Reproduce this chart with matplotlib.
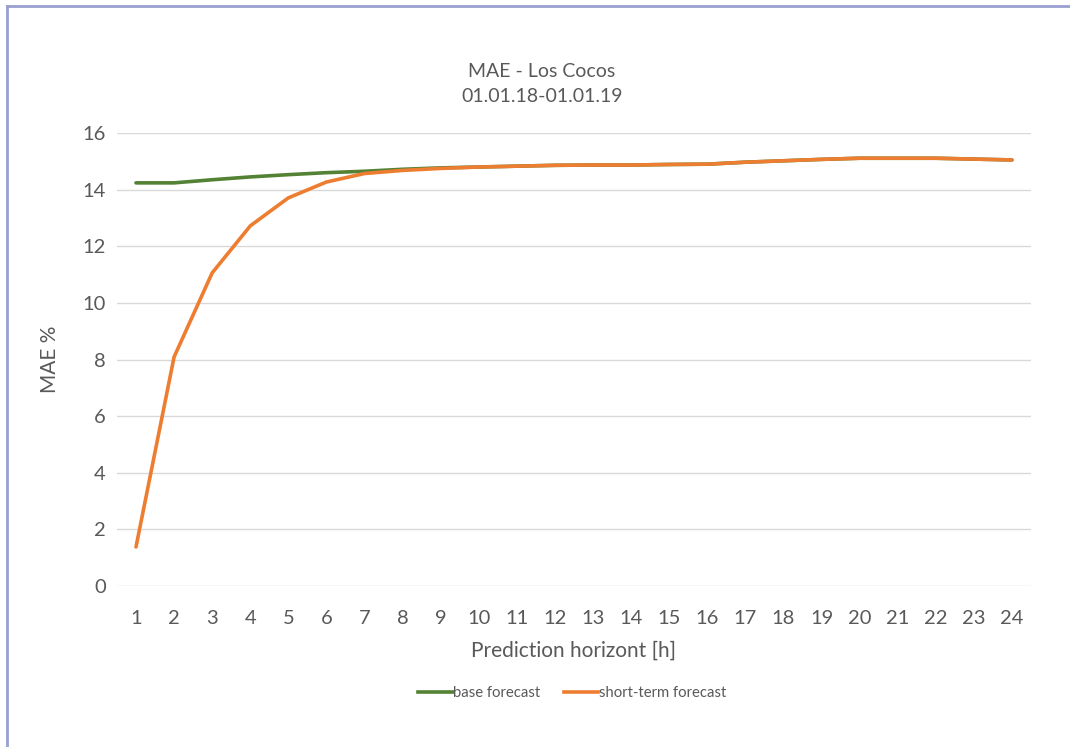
import matplotlib

matplotlib.use('Agg')
import matplotlib.pyplot as plt
from matplotlib.lines import Line2D

plt.rcParams['font.family'] = ['Lato', 'DejaVu Sans']

# data
horizon = list(range(1, 25))
base_forecast = [14.24, 14.24, 14.35, 14.45, 14.53, 14.60, 14.65, 14.72, 14.77, 14.80,
                 14.83, 14.86, 14.87, 14.87, 14.89, 14.90, 14.97, 15.02, 15.07, 15.11,
                 15.11, 15.11, 15.08, 15.05]
short_term = [1.38, 8.09, 11.06, 12.72, 13.71, 14.27, 14.57, 14.68, 14.75, 14.80,
              14.83, 14.86, 14.87, 14.87, 14.89, 14.90, 14.97, 15.02, 15.07, 15.11,
              15.11, 15.11, 15.08, 15.05]
y_ticks = [0, 2, 4, 6, 8, 10, 12, 14, 16]

text_grey = '#595959'
green = '#548235'
orange = '#ed7d31'

fig = plt.figure(figsize=(10.70, 7.47), dpi=100, facecolor='w')
ax = fig.add_axes([0.1093, 0.2155, 0.8542, 0.6064])

ax.plot(horizon, base_forecast, color=green, linewidth=2.6, solid_capstyle='round', zorder=3)
ax.plot(horizon, short_term, color=orange, linewidth=2.6, solid_capstyle='round', zorder=4)

ax.set_xlim(0.5, 24.5)
ax.set_ylim(0, 16)
ax.set_xticks(horizon)
ax.set_yticks(y_ticks)
ax.grid(axis='y', color='#d9d9d9', linewidth=1.0)
ax.set_axisbelow(True)
for s in ax.spines.values():
    s.set_visible(False)
ax.tick_params(length=0, labelsize=14.5, colors=text_grey)
ax.tick_params(axis='x', pad=17)
ax.tick_params(axis='y', pad=8)

ax.set_xlabel('Prediction horizont [h]', fontsize=15, color=text_grey, labelpad=10)
ax.set_ylabel('MAE %', fontsize=15, color=text_grey, labelpad=16)
fig.text(0.5065, 0.888, 'MAE - Los Cocos\n01.01.18-01.01.19', ha='center', va='center',
         fontsize=14, color=text_grey, linespacing=1.55)

handles = [Line2D([], [], color=green, linewidth=2.6),
           Line2D([], [], color=orange, linewidth=2.6)]
fig.legend(handles, ['base forecast', 'short-term forecast'], loc='center',
           bbox_to_anchor=(0.535, 0.072), ncol=2, frameon=False, fontsize=10.7,
           labelcolor=text_grey, handlelength=2.3, handletextpad=0.05, columnspacing=1.6)

# outer frame lines (top and left)
fig.add_artist(Line2D([0.0065, 1.0], [0.9925, 0.9925], color='#9a9fd0', linewidth=2.0))
fig.add_artist(Line2D([0.0070, 0.0070], [0.0, 0.9925], color='#9a9fd0', linewidth=2.0))

plt.savefig('out.png', dpi=100, facecolor='w')
